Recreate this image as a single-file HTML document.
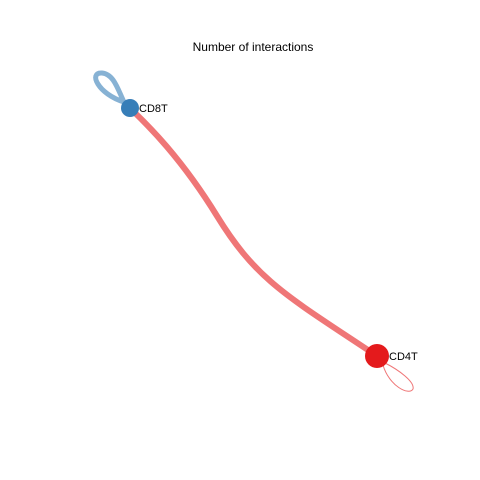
<!DOCTYPE html>
<html><head><meta charset="utf-8"><style>body{margin:0;background:#fff}svg{display:block}</style></head>
<body>
<svg width="480" height="480">
<text x="253" y="51" text-anchor="middle" font-family="Liberation Sans, sans-serif" font-size="12">Number of interactions</text>
<g id="g"></g>
</svg>
<script>
const cells=["CD8T","CD4T"];
const cellColors=["#377EB8","#E41A1C"];
const nodeSize=[9,12];
const edgeFrom=["CD4T","CD8T","CD4T"];
const edgeTo=["CD8T","CD8T","CD4T"];
const edgeCount=[6,5,1];
const pos={CD8T:[130,108],CD4T:[377,356]};
const g=document.getElementById('g');
const NS='http://www.w3.org/2000/svg';
const maxC=Math.max(...edgeCount);
function w(c){return 6*c/maxC;}
edgeFrom.forEach((f,i)=>{
  const t=edgeTo[i];const col=cellColors[cells.indexOf(f)];
  const p=document.createElementNS(NS,'path');
  let d;
  const [x1,y1]=pos[f],[x2,y2]=pos[t];
  if(f===t){
    if(f==="CD8T")d=`M${x1-6},${y1-6} C${x1-32},${y1-14} ${x1-42},${y1-36} ${x1-28},${y1-35} C${x1-16},${y1-34} ${x1-12},${y1-18} ${x1-6},${y1-6}`;
    else d=`M${x1+6},${y1+9} C${x1+12},${y1+30} ${x1+32},${y1+40} ${x1+36},${y1+33} C${x1+38},${y1+26} ${x1+22},${y1+14} ${x1+8},${y1+7}`;
  } else {
    d=`M${x1},${y1} C${x1-90},${y1-60} ${x1-120},${y1-75} ${x1-160},${y1-140} S${x2+10},${y2+10} ${x2},${y2}`;
  }
  p.setAttribute('d',d);p.setAttribute('fill','none');p.setAttribute('stroke',col);
  p.setAttribute('stroke-opacity','0.6');p.setAttribute('stroke-width',w(edgeCount[i]));
  p.setAttribute('stroke-linecap','round');
  
  
  g.appendChild(p);
});
cells.forEach((c,i)=>{
  const [x,y]=pos[c];
  const ci=document.createElementNS(NS,'circle');
  ci.setAttribute('cx',x);ci.setAttribute('cy',y);ci.setAttribute('r',nodeSize[i]);ci.setAttribute('fill',cellColors[i]);
  
  
  g.appendChild(ci);
  const tx=document.createElementNS(NS,'text');
  tx.setAttribute('x',x+nodeSize[i]);tx.setAttribute('y',y+4);
  tx.setAttribute('font-family','Liberation Sans, sans-serif');tx.setAttribute('font-size','11');
  tx.textContent=c;
  
  
  g.appendChild(tx);
});
</script>
</body></html>
